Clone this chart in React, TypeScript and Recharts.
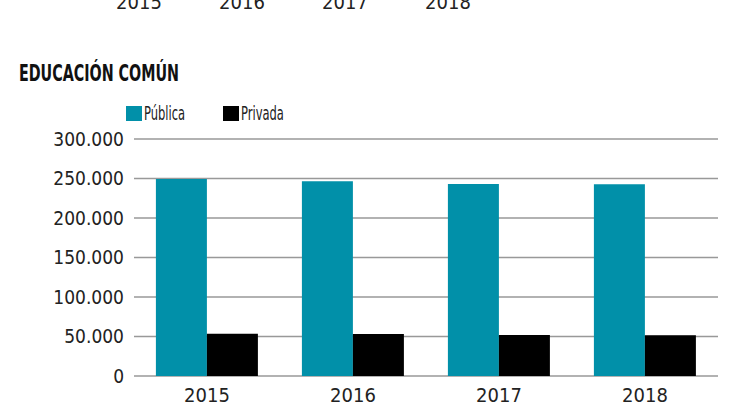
import { BarChart, Bar, XAxis, YAxis, CartesianGrid } from "recharts";

const years = ["2015", "2016", "2017", "2018"];
const publica = [249500, 246500, 243000, 242800];
const privada = [53500, 53200, 51900, 51600];
const yTicks = [0, 50000, 100000, 150000, 200000, 250000, 300000];

const data = years.map((year, i) => ({
  year,
  publica: publica[i],
  privada: privada[i],
}));

const FONT = "'DejaVu Sans Condensed', 'DejaVu Sans', sans-serif";
const TEAL = "#0190a9";

const fmt = (v: number) => String(v).replace(/\B(?=(\d{3})+(?!\d))/g, ".");

const legendItems = [
  { label: "Pública", color: TEAL, x: 126 },
  { label: "Privada", color: "#000", x: 223 },
];

export default function App() {
  return (
    <div style={{ position: "absolute", left: 0, top: 0, width: 750, height: 410, background: "#fff", overflow: "hidden" }}>
      {/* axis labels of the chart above, cut by the top edge */}
      {years.map((y, i) => (
        <div
          key={y}
          style={{
            position: "absolute",
            top: -8,
            left: [139, 242, 345, 448][i] - 30,
            width: 60,
            textAlign: "center",
            fontFamily: FONT,
            fontSize: 20,
            color: "#222",
            lineHeight: "20px",
          }}
        >
          {y}
        </div>
      ))}
      <div
        style={{
          position: "absolute",
          top: 60,
          left: 19,
          fontFamily: FONT,
          fontWeight: "bold",
          fontSize: 23,
          color: "#111",
          whiteSpace: "nowrap",
          transform: "scaleX(0.69)",
          transformOrigin: "left center",
        }}
      >
        EDUCACIÓN COMÚN
      </div>
      {legendItems.map((it) => (
        <div key={it.label}>
          <div style={{ position: "absolute", left: it.x, top: 106, width: 16, height: 15, background: it.color }} />
          <div
            style={{
              position: "absolute",
              left: it.x + 18,
              top: 102,
              fontFamily: FONT,
              fontSize: 20,
              lineHeight: "22px",
              color: "#222",
              whiteSpace: "nowrap",
              transform: "scaleX(0.64)",
              transformOrigin: "left center",
            }}
          >
            {it.label}
          </div>
        </div>
      ))}
      <BarChart
        width={750}
        height={410}
        data={data}
        margin={{ top: 139, right: 32, left: 0, bottom: 4 }}
        barCategoryGap="15%"
        barGap={0}
      >
        <CartesianGrid horizontal vertical={false} stroke="#999" strokeWidth={1.5} />
        <XAxis
          dataKey="year"
          axisLine={false}
          tickLine={false}
          tickMargin={6}
          height={30}
          tick={{ fontFamily: FONT, fontSize: 20, fill: "#222" }}
        />
        <YAxis
          width={134}
          domain={[0, 300000]}
          ticks={yTicks}
          axisLine={false}
          tickLine={false}
          tickMargin={4}
          tickFormatter={fmt}
          tick={{ fontFamily: FONT, fontSize: 19, fill: "#222" }}
        />
        <Bar dataKey="publica" name="Pública" fill={TEAL} isAnimationActive={false} />
        <Bar dataKey="privada" name="Privada" fill="#000" isAnimationActive={false} />
      </BarChart>
    </div>
  );
}
